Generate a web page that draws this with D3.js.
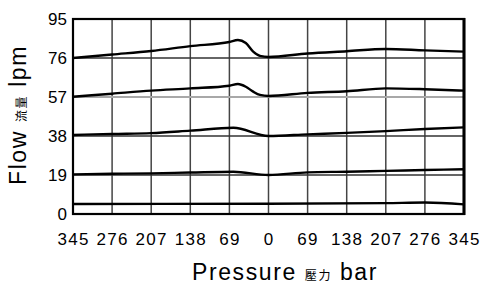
<!DOCTYPE html>
<html>
<head>
<meta charset="utf-8">
<script src="https://cdn.jsdelivr.net/npm/d3@7/dist/d3.min.js"></script>
</head>
<body style="margin:0">
<div class="svg"></div>
<script>
// axis ticks
var pressureTicks = [-345, -276, -207, -138, -69, 0, 69, 138, 207, 276, 345];
var flowTicks = [0, 19, 38, 57, 76, 95];

// curves (pressure bar, flow lpm)
var line1P = [-345, -276, -207, -138, -69, -54, -40, -27, -15, 0, 69, 138, 207, 276, 345];
var line1F = [76.0, 77.7, 79.4, 81.8, 83.8, 84.8, 83.3, 79.1, 77.0, 76.5, 78.2, 79.3, 80.4, 79.7, 79.1];
var line2P = [-345, -276, -207, -138, -69, -54, -40, -27, -15, 0, 69, 138, 207, 276, 345];
var line2F = [57.1, 58.6, 60.1, 61.2, 62.5, 63.3, 62.0, 59.6, 58.0, 57.5, 59.0, 59.8, 61.2, 60.8, 60.1];
var line3P = [-345, -276, -207, -138, -62, 0, 69, 138, 207, 276, 345];
var line3F = [38.5, 39.0, 39.4, 40.6, 42.0, 38.0, 38.8, 39.5, 40.4, 41.4, 42.2];
var line4P = [-345, -276, -207, -138, -62, 0, 69, 138, 207, 276, 345];
var line4F = [19.3, 19.6, 19.8, 20.2, 20.6, 19.0, 20.3, 20.6, 21.0, 21.4, 21.8];
var line5P = [-345, 0, 207, 276, 345];
var line5F = [4.9, 5.0, 5.3, 5.6, 4.7];

var W = 481, H = 285;
var L = 73, R = 464, T = 19, B = 214;

var x = d3.scaleLinear().domain([-345, 345]).range([L, R]);
var y = d3.scaleLinear().domain([0, 95]).range([B, T]);

var svg = d3.select('div.svg').append('svg')
  .attr('width', W)
  .attr('height', H)
  .style('font-family', '"Liberation Sans", Arial, sans-serif');

// vertical grid
svg.append('g').selectAll('line')
  .data(pressureTicks.slice(1, -1))
  .enter().append('line')
  .attr('x1', function (d) { return x(d); })
  .attr('x2', function (d) { return x(d); })
  .attr('y1', T)
  .attr('y2', B)
  .attr('stroke', '#444')
  .attr('stroke-width', 1.5);

// horizontal grid, the 57 line is light grey
svg.append('g').selectAll('line')
  .data(flowTicks.slice(1, -1))
  .enter().append('line')
  .attr('x1', L)
  .attr('x2', R)
  .attr('y1', function (d) { return y(d); })
  .attr('y2', function (d) { return y(d); })
  .attr('stroke', function (d) { return d == 57 ? '#a8a8a8' : '#333'; })
  .attr('stroke-width', function (d) { return d == 57 ? 2 : 1.5; });

// curves
var series = [[line1P, line1F], [line2P, line2F], [line3P, line3F], [line4P, line4F], [line5P, line5F]];
var line = d3.line()
  .x(function (d) { return x(d[0]); })
  .y(function (d) { return y(d[1]); })
  .curve(d3.curveMonotoneX);
svg.append('g').selectAll('path')
  .data(series.map(function (s) { return d3.zip(s[0], s[1]); }))
  .enter().append('path')
  .attr('d', line)
  .attr('fill', 'none')
  .attr('stroke', '#000')
  .attr('stroke-width', 2.4);

// frame
svg.append('rect')
  .attr('x', L).attr('y', T)
  .attr('width', R - L).attr('height', B - T)
  .attr('fill', 'none')
  .attr('stroke', '#000')
  .attr('stroke-width', 2.2);
svg.append('line')
  .attr('x1', R).attr('x2', R)
  .attr('y1', T - 1).attr('y2', B + 1)
  .attr('stroke', '#000')
  .attr('stroke-width', 3);

// axes
var gx = svg.append('g')
  .attr('transform', 'translate(0,' + B + ')')
  .call(d3.axisBottom(x).tickValues(pressureTicks).tickSize(0).tickPadding(19)
    .tickFormat(function (d) { return Math.abs(d); }));
gx.select('.domain').remove();
gx.selectAll('text')
  .attr('font-size', '17px')
  .attr('font-family', '"Liberation Sans", Arial, sans-serif')
  .attr('letter-spacing', '1.3px')
  .attr('fill', '#000');

var gy = svg.append('g')
  .attr('transform', 'translate(' + L + ',0)')
  .call(d3.axisLeft(y).tickValues(flowTicks).tickSize(0).tickPadding(6));
gy.select('.domain').remove();
gy.selectAll('text')
  .attr('font-size', '17px')
  .attr('font-family', '"Liberation Sans", Arial, sans-serif')
  .attr('fill', '#000');

// titles
var xt = svg.append('text')
  .attr('x', 285)
  .attr('y', 280)
  .attr('text-anchor', 'middle')
  .attr('font-size', '23px')
  .attr('letter-spacing', '1.6px')
  .attr('fill', '#000');
xt.append('tspan').text('Pressure ');
xt.append('tspan').attr('font-size', '12px').attr('font-family', '"Noto Sans CJK TC", sans-serif').text('壓力');
xt.append('tspan').text(' bar');

var yt = svg.append('text')
  .attr('transform', 'translate(26,115) rotate(-90)')
  .attr('text-anchor', 'middle')
  .attr('font-size', '23px')
  .attr('letter-spacing', '1.6px')
  .attr('fill', '#000');
yt.append('tspan').text('Flow ');
yt.append('tspan').attr('font-size', '12px').attr('font-family', '"Noto Sans CJK TC", sans-serif').text('流量');
yt.append('tspan').text(' lpm');
</script>
</body>
</html>
